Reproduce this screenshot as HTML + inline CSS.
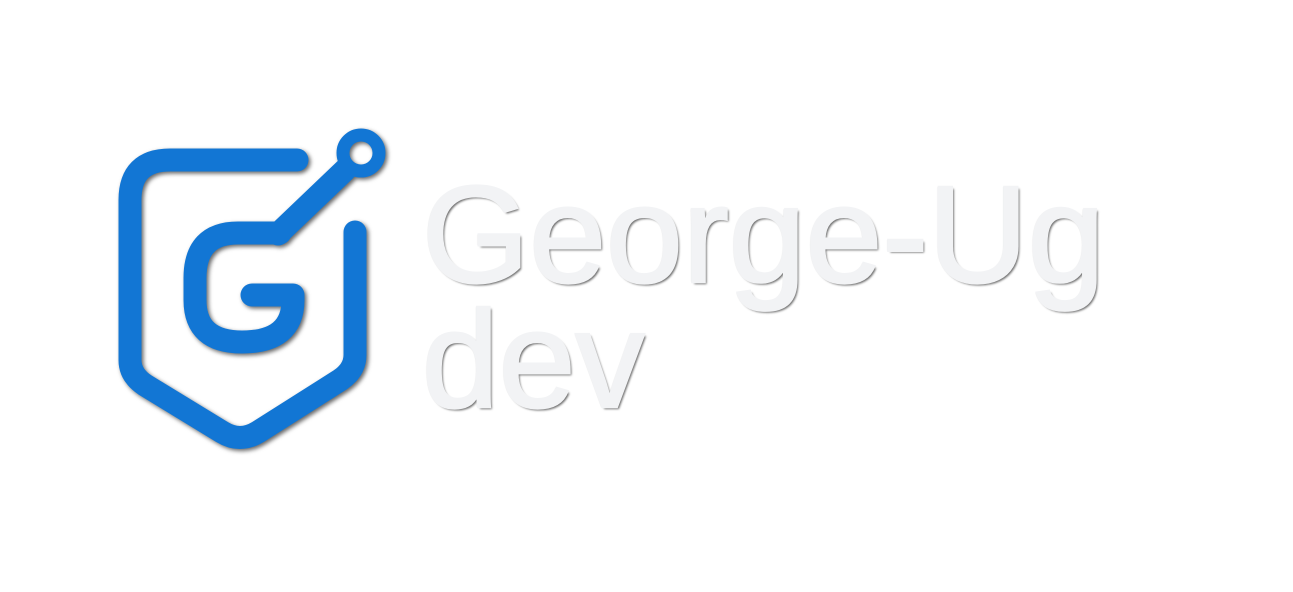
<!DOCTYPE html>
<html><head><meta charset="utf-8"><style>
html,body{margin:0;padding:0;background:#fff;width:1293px;height:592px;overflow:hidden}
.t{position:absolute;left:422px;font-family:"Liberation Sans",sans-serif;font-weight:normal;color:#f2f3f5;font-size:138px;line-height:1;text-shadow:2px 2px 2px rgba(0,0,0,0.6),-1px 0 1px rgba(0,0,0,0.25);-webkit-text-stroke:2.5px #f2f3f5}
</style></head><body>
<svg width="1293" height="592" style="position:absolute;left:0;top:0">
<g fill="none" stroke="#1276d4" stroke-width="23" stroke-linecap="round" stroke-linejoin="round" style="filter:drop-shadow(2px 2px 2px rgba(0,0,0,0.6))">
<path d="M297 160 L170 160 Q130 160 130 200 L130 360 Q130 375 145 385 L222 432 Q240 443 258 432 L340 380 Q355 370 355 355 L355 232"/>
<path d="M280 233 L238 233 Q195 233 195 278 L195 300 Q195 342 242 342 Q293 342 293 300 L293 295 L252 295"/>
<path d="M278 234 L345 170"/>
<circle cx="361" cy="153" r="18" stroke-width="13"/>
</g>
</svg>
<div class="t" style="top:166px">George-Ug</div>
<div class="t" style="top:291px">dev</div>
</body></html>
